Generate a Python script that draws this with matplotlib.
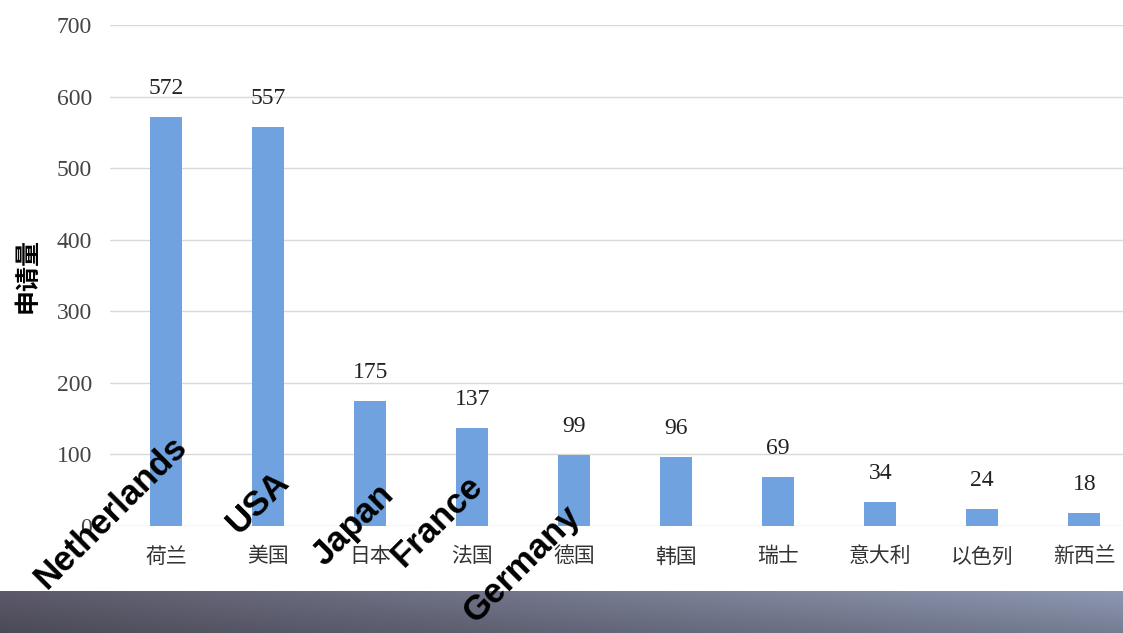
import numpy as np
import matplotlib
matplotlib.use('Agg')
import matplotlib.pyplot as plt
from matplotlib.colors import to_rgb

# data
countries_cn = ['荷兰', '美国', '日本', '法国', '德国', '韩国', '瑞士', '意大利', '以色列', '新西兰']
counts = [572, 557, 175, 137, 99, 96, 69, 34, 24, 18]
english_names = ['Netherlands', 'USA', 'Japan', 'France', 'Germany']
# anchor offsets (px) of each overlay label, from the bar base
label_offsets = [(4, 96), (4, 61), (7, 48), (-6, 57), (-10, 27)]

plt.rcParams['font.family'] = ['Noto Sans CJK SC', 'DejaVu Sans']
serif = ['Liberation Serif', 'DejaVu Serif']

fig = plt.figure(figsize=(11.23, 6.33), dpi=100)
W, H = 1123, 633
ax = fig.add_axes([110 / W, 1 - 526 / H, (W - 110) / W, (526 - 25) / H])

x = np.arange(len(countries_cn))
ax.bar(x, counts, width=0.31, color='#6fa2de', zorder=3)
ax.set_xlim(-0.55, 9.38)
ax.set_ylim(0, 700)
ax.set_yticks(range(0, 701, 100))
ax.set_yticklabels([str(v) for v in range(0, 701, 100)],
                   family=serif, fontsize=17, color='#444444')
ax.set_xticks(x)
ax.set_xticklabels(countries_cn, fontsize=15, color='#333333')
ax.tick_params(axis='both', length=0)
ax.tick_params(axis='x', pad=14)
ax.tick_params(axis='y', pad=13)
ax.grid(axis='y', color='#d9d9d9', linewidth=1, zorder=0)
for s in ax.spines.values():
    s.set_visible(False)

ax.set_ylabel('申请量', fontsize=18, fontweight='bold')
ax.yaxis.set_label_coords((40 - 110) / (W - 110), 0.5)

for i, v in enumerate(counts):
    ax.annotate(str(v), (i, v), xytext=(0, 23), textcoords='offset pixels',
                ha='center', va='baseline', fontsize=17,
                family=serif, color='#222222')

# rotated English overlay labels
for i, (name, (dx, dy)) in enumerate(zip(english_names, label_offsets)):
    ax.annotate(name, (i, 0), xytext=(dx, dy), textcoords='offset pixels',
                ha='right', va='top', rotation=45, rotation_mode='anchor',
                fontsize=25, fontweight='bold', color='black',
                family=['Liberation Sans', 'DejaVu Sans'], zorder=10,
                annotation_clip=False)

# grey band at the bottom of the photo
band = fig.add_axes([0, 0, 1, 42 / H], zorder=-1)
left = np.array(to_rgb('#5c5a6a'))
right = np.array(to_rgb('#8e98b2'))
t = np.linspace(0, 1, 300)[None, :, None]
rows = np.linspace(1.0, 0.82, 40)[:, None, None]
img = (left * (1 - t) + right * t) * rows
band.imshow(np.clip(img, 0, 1), aspect='auto', extent=[0, 1, 0, 1])
band.set_axis_off()

fig.savefig('out.png', dpi=100)
